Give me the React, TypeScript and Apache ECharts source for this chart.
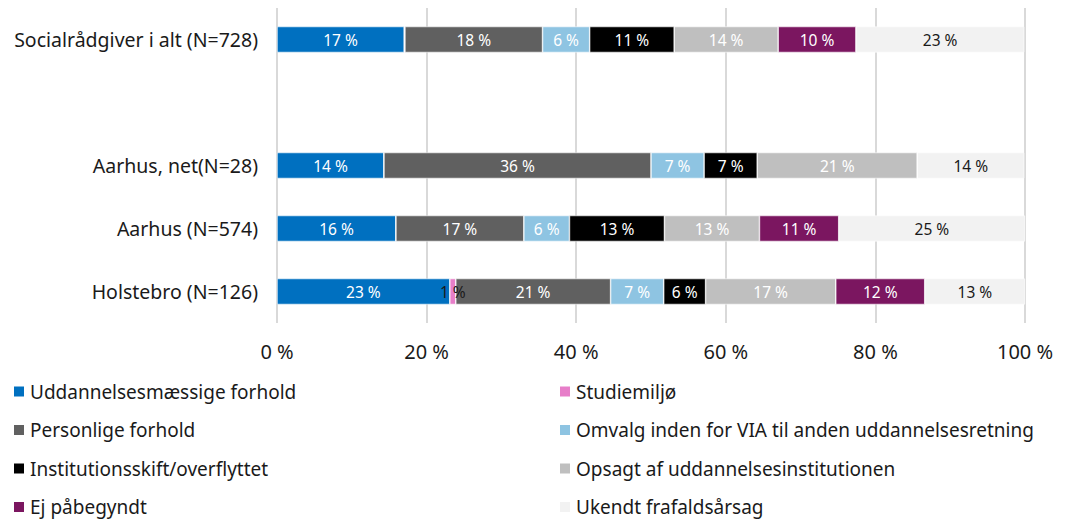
import React, { useEffect, useRef } from "react";
import * as echarts from "echarts";

const categories = [
  "Socialrådgiver i alt (N=728)",
  "",
  "Aarhus, net(N=28)",
  "Aarhus (N=574)",
  "Holstebro (N=126)",
];

const seriesNames = [
  "Uddannelsesmæssige forhold",
  "Studiemiljø",
  "Personlige forhold",
  "Omvalg inden for VIA til anden uddannelsesretning",
  "Institutionsskift/overflyttet",
  "Opsagt af uddannelsesinstitutionen",
  "Ej påbegyndt",
  "Ukendt frafaldsårsag",
];

// percent values per category (null = empty gap row)
const uddannelse = [17.0, null, 14.3, 15.9, 23.1];
const studiemiljo = [0.1, null, 0, 0, 0.8];
const personlige = [18.4, null, 35.7, 17.1, 20.7];
const omvalg = [6.3, null, 7.1, 6.1, 7.1];
const institution = [11.3, null, 7.1, 12.7, 5.6];
const opsagt = [13.9, null, 21.4, 12.7, 17.4];
const ejPaabegyndt = [10.4, null, 0, 10.6, 11.9];
const ukendt = [22.5, null, 14.3, 24.9, 13.4];

const xTicks = [0, 20, 40, 60, 80, 100];

const colors = [
  "#0070C0",
  "#E77EC9",
  "#606060",
  "#8EC4E2",
  "#000000",
  "#BFBFBF",
  "#7B1660",
  "#F2F2F2",
];
const labelColors = [
  "#ffffff",
  "#1a1a1a",
  "#ffffff",
  "#ffffff",
  "#ffffff",
  "#ffffff",
  "#ffffff",
  "#1a1a1a",
];

const FONT = "'Noto Sans', 'Open Sans', sans-serif";

export default function App() {
  const ref = useRef<HTMLDivElement>(null);
  useEffect(() => {
    if (!ref.current) return;
    const chart = echarts.init(ref.current, null, { renderer: "svg" });
    const allData = [
      uddannelse,
      studiemiljo,
      personlige,
      omvalg,
      institution,
      opsagt,
      ejPaabegyndt,
      ukendt,
    ];
    const series = seriesNames.map((name, i) => ({
      name,
      type: "bar",
      stack: "total",
      barWidth: 26,
      data: allData[i].map((v) => (v === null ? "-" : v)),
      itemStyle: { color: colors[i], borderColor: "#ffffff", borderWidth: 0.6 },
      label: {
        show: true,
        position: "inside",
        color: labelColors[i],
        fontFamily: FONT,
        fontSize: 15.5,
        formatter: (p: any) =>
          typeof p.value === "number" && Math.round(p.value) >= 1
            ? Math.round(p.value) + " %"
            : "",
      },
    }));
    const legendBase = {
      orient: "vertical",
      icon: "rect",
      itemWidth: 12,
      itemHeight: 12,
      itemGap: 19.5,
      padding: 0,
      textStyle: { fontFamily: FONT, fontSize: 19, color: "#1a1a1a" },
      selectedMode: false,
    };
    chart.setOption({
      animation: false,
      color: colors,
      textStyle: { fontFamily: FONT },
      grid: { left: 277, right: 44, top: 8, bottom: 199, containLabel: false },
      xAxis: {
        type: "value",
        min: 0,
        max: 100,
        interval: 20,
        axisLine: { show: false },
        axisTick: { show: false },
        splitLine: { show: true, lineStyle: { color: "#D9D9D9", width: 2 } },
        axisLabel: {
          fontFamily: FONT,
          fontSize: 20,
          color: "#1a1a1a",
          margin: 18,
          formatter: (v: number) => (xTicks.includes(v) ? v + " %" : ""),
        },
      },
      yAxis: {
        type: "category",
        inverse: true,
        data: categories,
        axisLine: { show: false },
        axisTick: { show: false },
        splitLine: { show: false },
        axisLabel: {
          fontFamily: FONT,
          fontSize: 19.5,
          color: "#1a1a1a",
          margin: 19,
        },
      },
      legend: [
        {
          ...legendBase,
          left: 12,
          top: 382,
          data: [seriesNames[0], seriesNames[2], seriesNames[4], seriesNames[6]],
        },
        {
          ...legendBase,
          left: 558,
          top: 382,
          data: [seriesNames[1], seriesNames[3], seriesNames[5], seriesNames[7]],
        },
      ],
      series,
    });
    return () => chart.dispose();
  }, []);
  return <div ref={ref} style={{ width: 1069, height: 522, position: "absolute", left: 0, top: 0 }} />;
}
